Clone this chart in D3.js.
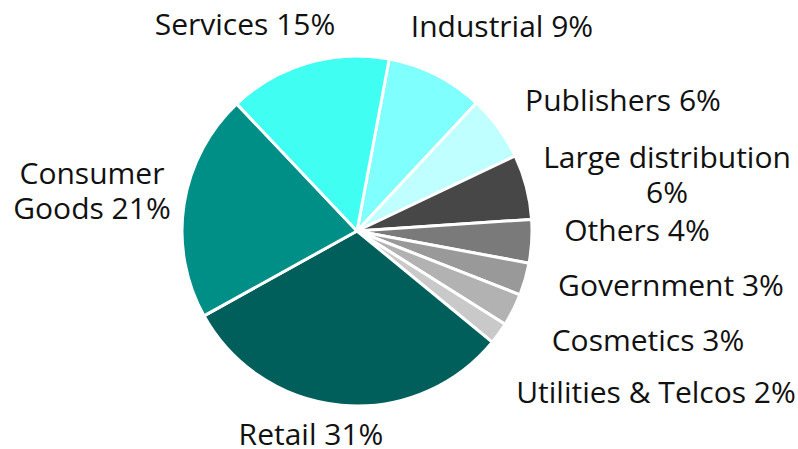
<!DOCTYPE html>
<html>
<head>
<meta charset="utf-8">
<script src="https://cdn.jsdelivr.net/npm/d3@7/dist/d3.min.js"></script>
<style>
  html, body { margin: 0; padding: 0; background: #fff; }
  svg text { font-family: "Open Sans", "Noto Sans", sans-serif; fill: #111; }
</style>
</head>
<body>
<svg id="chart" width="798" height="449"></svg>
<script>
// Revenue share by sector, clockwise from Industrial
const categories = ["Industrial", "Publishers", "Large distribution", "Others", "Government",
                    "Cosmetics", "Utilities & Telcos", "Retail", "Consumer Goods", "Services"];
const shares = [9, 6, 6, 4, 3, 3, 2, 31, 21, 15];
const colors = ["#80ffff", "#c0ffff", "#474747", "#7a7a7a", "#999999",
                "#b2b2b2", "#c9c9c9", "#005f5a", "#008f87", "#40fff2"];

// Label lines per sector (text only)
const labelLines = [
  ["Industrial 9%"], ["Publishers 6%"], ["Large distribution", "6%"], ["Others 4%"],
  ["Government 3%"], ["Cosmetics 3%"], ["Utilities & Telcos 2%"], ["Retail 31%"],
  ["Consumer", "Goods 21%"], ["Services 15%"]
];

// Label placement: centre x and first baseline y for each sector label
const labelLayout = [
  { x: 502, y: 37 }, { x: 623, y: 111 }, { x: 667, y: 168 }, { x: 637, y: 241 },
  { x: 671, y: 296 }, { x: 648, y: 351 }, { x: 656, y: 403 }, { x: 311, y: 445 },
  { x: 92, y: 184 }, { x: 245, y: 35 }
];

const svg = d3.select("#chart");
const cx = 357, cy = 231, radius = 175;
const start = 10.6 * Math.PI / 180;

const pie = d3.pie().sort(null).value(d => d.value)
  .startAngle(start).endAngle(start + 2 * Math.PI);
const arc = d3.arc().innerRadius(0).outerRadius(radius);

const data = categories.map((c, i) => ({ name: c, value: shares[i], color: colors[i] }));
const arcs = pie(data);

const g = svg.append("g").attr("transform", `translate(${cx},${cy})`);
g.selectAll("path").data(arcs).join("path")
  .attr("d", arc)
  .attr("fill", d => d.data.color)
  .attr("stroke", "#fff")
  .attr("stroke-width", 3)
  .attr("stroke-linejoin", "round");

const labels = svg.append("g");
labelLines.forEach((lines, i) => {
  const t = labels.append("text")
    .attr("x", labelLayout[i].x)
    .attr("y", labelLayout[i].y)
    .attr("text-anchor", "middle")
    .attr("font-size", 30);
  lines.forEach((line, j) => {
    t.append("tspan")
      .attr("x", labelLayout[i].x)
      .attr("dy", j === 0 ? 0 : 35)
      .text(line);
  });
});
</script>
</body>
</html>
